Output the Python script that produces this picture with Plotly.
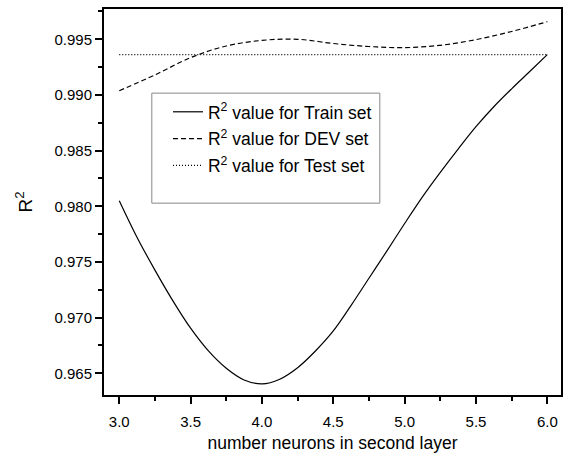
import plotly.graph_objects as go

neurons_train = [3.0, 3.125, 3.25, 3.375, 3.5, 3.625, 3.75, 3.875, 4.0, 4.125, 4.25, 4.375,
                 4.5, 4.625, 4.75, 4.875, 5.0, 5.125, 5.25, 5.375, 5.5, 5.625, 5.75, 5.875, 6.0]
r2_train = [0.9805, 0.9772, 0.97427, 0.97153, 0.96905, 0.96701, 0.96545, 0.9644, 0.96405,
            0.96447, 0.9655, 0.9670, 0.9688, 0.9711, 0.97354, 0.97597, 0.97845, 0.98085,
            0.98305, 0.98514, 0.98715, 0.98894, 0.99055, 0.99208, 0.99362]
neurons_dev = [3.0, 3.25, 3.5, 3.75, 4.0, 4.25, 4.5, 4.75, 5.0, 5.25, 5.5, 5.75, 6.0]
r2_dev = [0.99038, 0.9918, 0.99335, 0.9944, 0.9949, 0.995, 0.99462, 0.99435,
          0.99425, 0.99446, 0.99497, 0.9957, 0.99658]
test_x = [3.0, 6.0]
r2_test = [0.99363, 0.99363]

FONT = "Arial, Liberation Sans, sans-serif"

fig = go.Figure()
fig.add_trace(go.Scatter(x=neurons_train, y=r2_train, mode="lines",
                         line=dict(color="black", width=1.2, shape="spline", smoothing=1.0),
                         name="R<sup>2</sup> value for Train set", legendgroup="a"))
fig.add_trace(go.Scatter(x=neurons_dev, y=r2_dev, mode="lines",
                         line=dict(color="black", width=1.2, shape="spline", smoothing=1.0, dash="5px,3px"),
                         name="R<sup>2</sup> value for DEV set", legendgroup="b"))
fig.add_trace(go.Scatter(x=test_x, y=r2_test, mode="lines",
                         line=dict(color="black", width=1.2, dash="1px,2px"),
                         name="R<sup>2</sup> value for Test set", legendgroup="c"))

axis_common = dict(showgrid=False, zeroline=False, showline=True, linecolor="black",
                   linewidth=2, mirror=True, ticks="outside", ticklen=7, tickwidth=1.5,
                   tickcolor="black", tickfont=dict(family=FONT, size=15, color="black"))

fig.update_xaxes(range=[2.893, 6.096], dtick=0.5, tick0=3.0, tickformat=".1f", ticklabelstandoff=5,
                 minor=dict(dtick=0.25, tick0=3.0, ticks="outside", ticklen=4, tickcolor="black", tickwidth=1.5),
                 title=dict(text="number neurons in second layer", font=dict(family=FONT, size=17.5, color="black"),
                            standoff=8),
                 **axis_common)
fig.update_yaxes(range=[0.96305, 0.99772], dtick=0.005, tick0=0.965, tickformat=".3f",
                 minor=dict(dtick=0.0025, tick0=0.965, ticks="outside", ticklen=4, tickcolor="black", tickwidth=1.5),
                 title=dict(text="R<sup>2</sup>", font=dict(family=FONT, size=19, color="black"), standoff=17),
                 **axis_common)

fig.add_shape(type="rect", xref="paper", yref="paper", x0=0.1046, x1=0.6035, y0=0.497, y1=0.782,
              line=dict(color="#888888", width=1), fillcolor="rgba(0,0,0,0)", layer="below")

fig.update_layout(
    width=568, height=458,
    margin=dict(l=104, r=5, t=9, b=63),
    paper_bgcolor="white", plot_bgcolor="white",
    showlegend=True,
    legend=dict(x=0.14, y=0.78, xanchor="left", yanchor="top", bgcolor="rgba(0,0,0,0)",
                borderwidth=0, font=dict(family=FONT, size=17.5, color="black"),
                tracegroupgap=1, itemwidth=30),
)

fig.write_html("out.html")
